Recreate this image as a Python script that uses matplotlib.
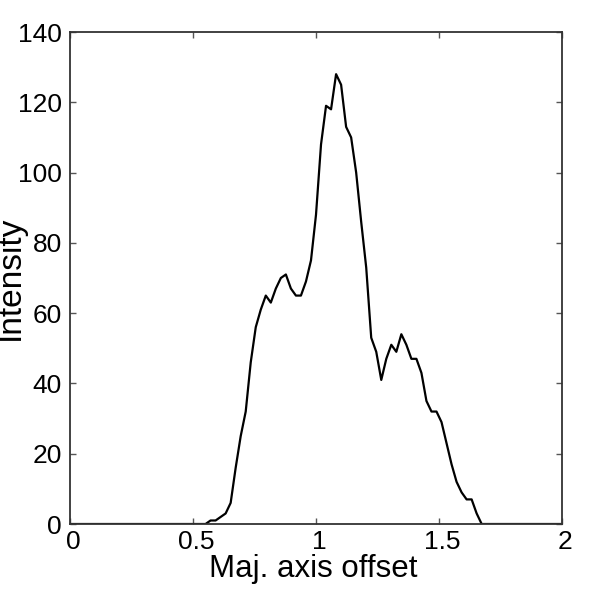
import numpy as np
import matplotlib
matplotlib.use("Agg")
import matplotlib.pyplot as plt
from matplotlib.transforms import ScaledTranslation

plt.rcParams['font.family'] = ['Liberation Sans', 'DejaVu Sans']

# sample positions along the major axis (99 evenly spaced bins from 0 to 2)
offset = np.linspace(0.0, 2.0, 99)
intensity = [0] * 27 + [
    0, 1, 1, 2, 3, 6, 16, 25, 32, 46, 56, 61, 65, 63, 67, 70, 71, 67, 65, 65,
    69, 75, 88, 108, 119, 118, 128, 125, 113, 110, 100, 86, 73, 53, 49, 41,
    47, 51, 49, 54, 51, 47, 47, 43, 35, 32, 32, 29, 23, 17, 12, 9, 7, 7, 3, 0,
] + [0] * 16

xticks = [0, 0.5, 1, 1.5, 2]
xticklabels = ["0", "0.5", "1", "1.5", "2"]
yticks = [0, 20, 40, 60, 80, 100, 120, 140]

fig = plt.figure(figsize=(5.94, 5.93), dpi=100)
ax = fig.add_axes([70 / 594, 69 / 593, 492 / 594, 492 / 593])
ax.plot(offset, intensity, color='black', lw=1.6)

ax.set_xlim(0, 2)
ax.set_ylim(0, 140)
ax.set_xticks(xticks)
ax.set_xticklabels(xticklabels)
ax.set_yticks(yticks)

for s in ax.spines.values():
    s.set_color('#333333')
    s.set_linewidth(1.3)

ax.tick_params(direction='in', top=True, right=True, length=4.5, width=1,
               color='#555555', labelsize=19)
ax.tick_params(axis='x', pad=4)
ax.tick_params(axis='y', pad=6)

shift = ScaledTranslation(3 / 100, 0, fig.dpi_scale_trans)
for lab in ax.get_xticklabels():
    lab.set_transform(lab.get_transform() + shift)

ax.set_xlabel("Maj. axis offset", fontsize=22.5)
ax.set_ylabel("Intensity", fontsize=24)
ax.xaxis.set_label_coords(0.495, -0.06)
ax.yaxis.set_label_coords(-0.090, 0.5)

fig.savefig("out.png", dpi=100)
